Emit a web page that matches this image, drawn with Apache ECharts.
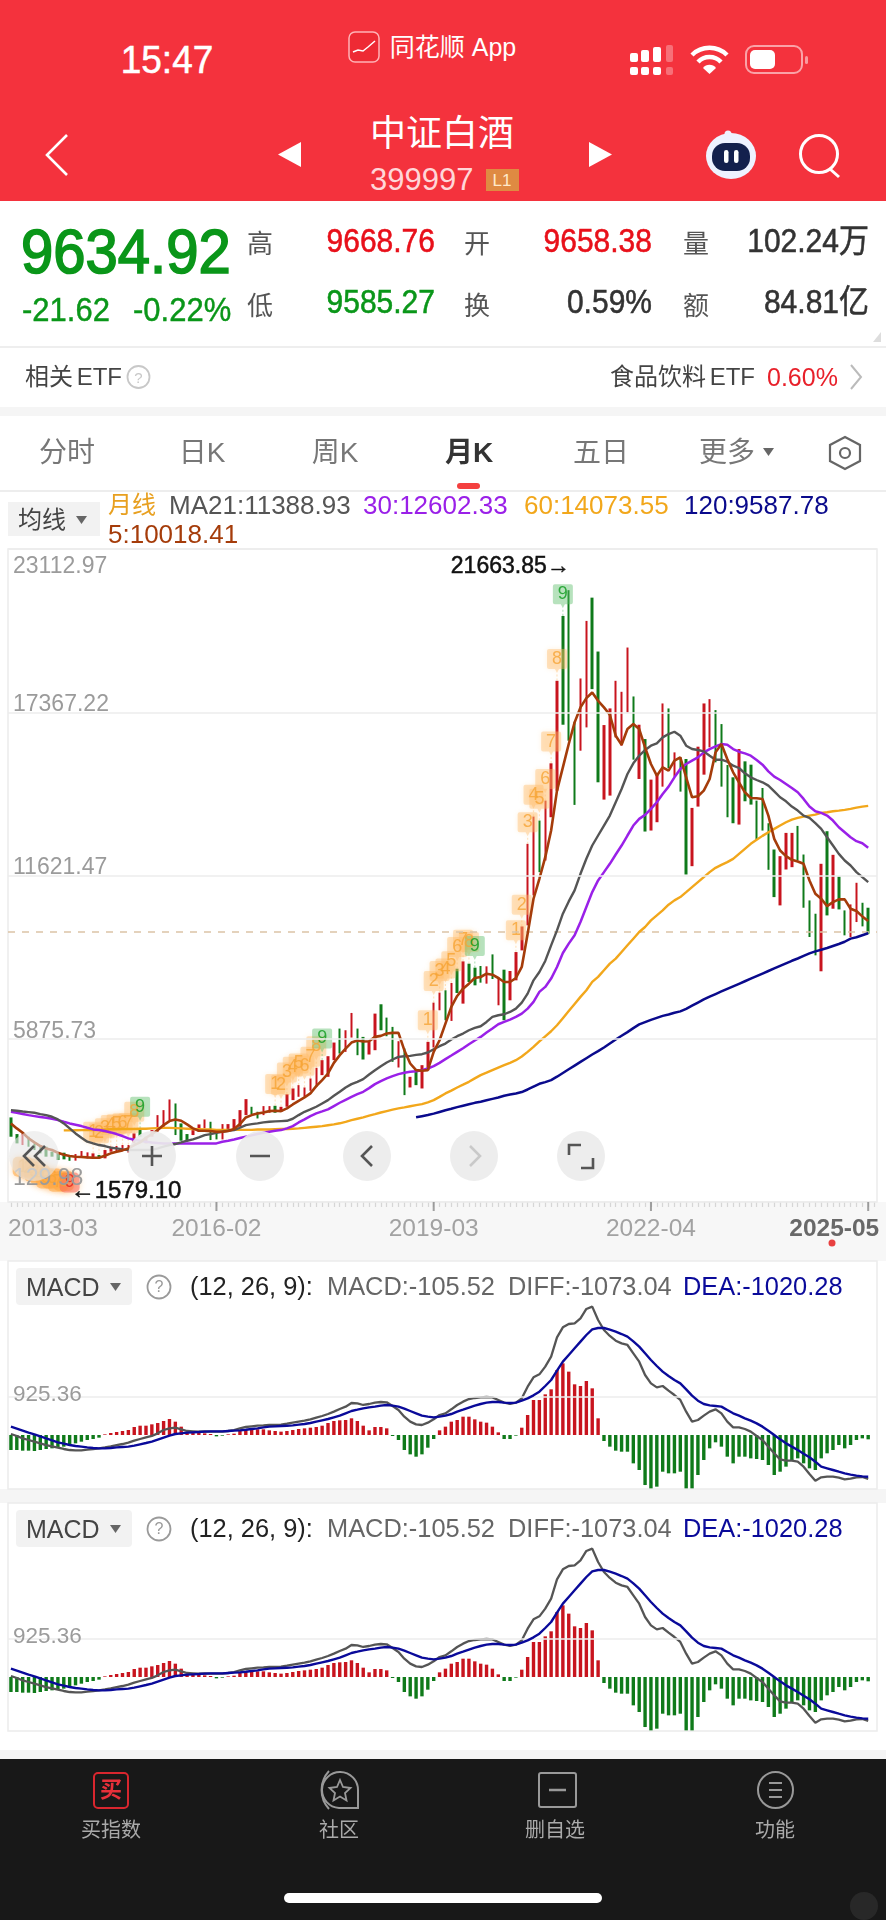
<!DOCTYPE html>
<html><head><meta charset="utf-8">
<style>
html,body{margin:0;padding:0;background:#fff;width:886px;height:1920px;overflow:hidden;font-family:"Liberation Sans","Noto Sans CJK SC",sans-serif}
#bands,#ui,#chart{position:absolute;left:0;top:0;width:886px;height:1920px}
#ui{pointer-events:none}
.b{position:absolute}
.t{position:absolute;white-space:nowrap;line-height:1}
svg{position:absolute;left:0;top:0}
</style>
<script src="https://cdn.jsdelivr.net/npm/echarts@6/dist/echarts.min.js"></script>
</head><body>
<div id="bands"></div>
<div id="chart"></div>
<div id="ui"></div>
<script>
// ---------- data ----------
const firstMonth = [2013, 3];
const monthCount = 147;
const yTickLabels = ['129.98','5875.73','11621.47','17367.22','23112.97'];
const xTickIdx = [0,35,72,109,146];
const xTickText = ['2013-03','2016-02','2019-03','2022-04','2025-05'];
const prevClose = 9656.54;
const highs = [
3107,2521,2544,2427,2193,2135,2076,1900,1842,1865,
1748,1818,1924,1877,1842,1783,1959,2076,2100,2135,
2135,2544,2720,2427,2661,3188,3364,3739,3598,2896,
2521,2661,2860,3036,2954,2568,2872,2872,3048,3364,
3751,3481,3306,3505,3505,3516,3481,3926,4126,4243,
4161,4478,4852,5122,5262,5742,6234,6175,6784,6234,
5941,5766,6761,7089,6620,6293,5789,5531,4536,4770,
4946,5766,7147,7499,7581,7838,8342,8599,8518,8377,
8436,8424,8845,8049,8307,8260,8927,9829,12736,13696,
13555,14258,15570,18474,20757,21663.85,17033,18556,20582,21401,
19504,16916,17502,18474,18087,19645,17923,16928,16424,14996,
15195,17677,17501,15955,15780,15721,14000,16155,17677,17829,
17443,16951,15510,15077,16072,15639,15522,14257,14702,13461,
12536,12302,13121,13121,13367,12360,10744,10276,12033,13180,
12349,11587,10393,10604,11365,10662,10487];
const lows = [
2427,2193,2135,2076,1959,1842,1725,1725,1608,1631,
1579.10,1585,1701,1666,1666,1666,1666,1900,1900,1935,
1865,2193,2427,2193,2427,2603,2720,3013,2486,2287,
2310,2486,2603,2720,2310,2333,2333,2603,2720,2779,
3188,3224,3071,3188,3271,3271,3306,3482,3716,3833,
3833,4044,4185,4595,4536,5122,5356,5414,5918,5297,
5145,5321,5473,6175,5965,5063,4864,3892,4161,4243,
4126,4770,5567,6878,6527,6503,7487,7112,7873,7756,
7850,7815,7979,7054,6527,7229,7932,8986,9867,10921,
11740,12150,13673,14609,16928,16366,14106,16014,16834,18181,
14902,14293,14434,16483,16190,17361,15698,15019,13169,13204,
13497,14749,15405,15100,14574,11658,11950,14047,15171,16131,
15604,14749,13672,13461,13414,14234,14117,12876,13203,11822,
10861,10569,11833,11915,12149,10487,9456,8812,8250,10217,
10452,10428,9515,9456,9983,9831,9573];
const rising = [
0,0,1,0,0,0,0,0,0,0,
0,1,1,1,1,0,1,1,1,1,
1,1,0,1,1,1,1,1,0,0,
0,1,1,1,0,0,1,1,1,1,
1,0,0,1,1,0,1,1,1,1,
1,1,1,1,1,1,0,1,1,0,
0,1,1,0,0,0,1,0,1,0,
1,1,1,1,0,1,0,1,0,0,
0,1,0,1,0,1,1,1,1,1,
0,1,1,1,0,0,0,1,1,0,
0,1,1,1,1,1,0,1,0,1,
1,1,0,1,0,0,1,1,1,1,
0,0,0,0,1,0,0,0,0,0,
0,1,1,1,0,0,0,0,1,0,
1,0,0,1,1,0,0];
const ma5 = [
2896,2720,2568,2369,2228,2099,2017,1959,1865,1795,
1748,1725,1713,1701,1690,1690,1760,1842,1900,1947,
2017,2135,2228,2392,2521,2661,2837,2978,3036,2989,
2860,2720,2638,2638,2626,2603,2603,2626,2697,2872,
3107,3188,3247,3282,3329,3341,3329,3423,3563,3692,
3810,3951,4208,4419,4653,5028,5297,5531,5742,5812,
5777,5789,5941,5976,6058,6082,6082,5473,5005,4770,
4747,4770,5414,5824,6410,6995,7382,7639,7815,8014,
8049,8166,8131,8014,7873,7873,8014,8403,9574,10803,
11506,12267,13204,14609,15429,16249,17010,17537,17865,18064,
17771,17537,17279,16541,16225,16776,16951,16776,16132,15546,
15136,15429,15312,15663,15780,15077,14375,14410,14609,15019,
15955,16248,15721,15253,14901,14550,14351,14339,14316,13731,
12911,12501,12302,12173,12114,12033,11447,10979,10803,10545,
10686,10780,10780,10452,10370,10182,10018.41];
const ma21 = [
3364,3341,3317,3294,3270,3224,3188,3130,3036,2896,
2720,2544,2392,2252,2193,2135,2099,2041,2017,1982,
1959,1959,1959,1959,1959,2017,2076,2135,2170,2228,
2287,2333,2404,2486,2521,2568,2603,2638,2661,2743,
2837,2872,2896,2931,2954,2966,2978,2989,3060,3189,
3306,3388,3482,3599,3716,3869,4009,4161,4278,4360,
4454,4618,4770,4911,5040,5145,5239,5262,5274,5309,
5332,5391,5508,5613,5707,5847,5965,6058,6175,6257,
6316,6468,6644,6702,6738,6820,6937,7147,7464,7932,
8227,8614,9164,9691,10277,10710,11096,11682,12209,12677,
13029,13380,13731,14200,14668,15195,15570,15839,16038,16190,
16272,16482,16599,16681,16541,16190,16072,16037,15991,15838,
15698,15698,15627,15487,15405,15218,15077,14983,14901,14784,
14585,14375,14234,14047,13906,13731,13649,13461,13262,12969,
12676,12384,12150,11974,11740,11564,11388.93];
const ma30 = [
3305,3270,3224,3188,3153,3118,3095,3060,3013,2954,
2896,2849,2802,2743,2685,2661,2626,2579,2521,2451,
2369,2322,2287,2252,2228,2205,2193,2193,2193,2193,
2193,2193,2193,2193,2193,2193,2252,2287,2333,2380,
2427,2474,2521,2568,2603,2638,2661,2720,2802,2930,
3037,3154,3248,3318,3389,3506,3623,3728,3833,3927,
4009,4138,4279,4384,4478,4560,4630,4677,4712,4735,
4770,4829,4911,5028,5157,5285,5414,5543,5684,5813,
5941,6093,6234,6386,6468,6550,6644,6761,6937,7171,
7525,7700,7993,8403,8895,9223,9516,9984,10511,11038,
11448,11740,12033,12361,12677,13029,13380,13614,13755,13965,
14200,14492,14749,15077,15370,15546,15663,15780,15955,16072,
16166,16248,16225,16072,15979,15920,15838,15686,15522,15288,
15100,14983,14843,14702,14550,14316,14047,13883,13824,13731,
13555,13321,13145,12969,12829,12758,12602.33];
const ma60 = [
null,null,null,null,null,null,null,null,null,2650,
2650,2655,2660,2660,2665,2670,2680,2690,2690,2700,
2700,2700,2710,2710,2720,2730,2740,2740,2730,2720,
2710,2700,2690,2680,2680,2670,2670,2670,2670,2670,
2670,2670,2680,2680,2680,2690,2700,2700,2710,2720,
2740,2760,2780,2800,2830,2860,2900,2950,3010,3060,
3110,3170,3220,3280,3330,3380,3423,3460,3500,3540,
3576,3640,3716,3830,3951,4050,4161,4260,4360,4480,
4595,4680,4770,4860,4946,5030,5122,5250,5414,5590,
5780,5960,6140,6350,6600,6850,7100,7350,7583,7876,
8052,8286,8520,8696,8930,9164,9398,9633,9808,10043,
10218,10394,10593,10745,10862,11037,11213,11388,11564,11740,
11892,11997,12091,12208,12384,12559,12735,12876,13016,13145,
13262,13379,13496,13590,13649,13695,13731,13766,13824,13847,
13883,13906,13930,13965,14012,14047,14073.55];
const ma120 = [
null,null,null,null,null,null,null,null,null,null,
null,null,null,null,null,null,null,null,null,null,
null,null,null,null,null,null,null,null,null,null,
null,null,null,null,null,null,null,null,null,null,
null,null,null,null,null,null,null,null,null,null,
null,null,null,null,null,null,null,null,null,null,
null,null,null,null,null,null,null,null,null,3110,
3150,3190,3240,3300,3360,3410,3470,3520,3570,3620,
3660,3710,3760,3810,3870,3910,3950,4000,4090,4190,
4290,4350,4420,4540,4670,4800,4930,5060,5190,5320,
5440,5570,5710,5850,5980,6110,6250,6380,6460,6540,
6610,6680,6730,6790,6840,6930,7040,7150,7260,7360,
7450,7540,7630,7720,7810,7900,7990,8080,8170,8260,
8350,8440,8530,8620,8700,8790,8880,8950,9010,9070,
9140,9210,9290,9400,9450,9520,9587.78];
const macdBars = [
-367,-367,-383,-383,-391,-367,-342,-326,-310,-285,
-245,-204,-163,-122,-98,-65,16,49,73,98,
122,196,228,228,261,293,342,391,326,204,
82,65,49,41,24,-33,-16,16,33,98,
122,130,139,139,114,98,82,98,122,147,
163,179,196,228,293,342,359,367,408,342,
228,114,196,196,163,-24,-122,-367,-473,-530,
-473,-310,-98,114,204,326,367,448,448,383,
326,302,204,65,-98,-98,-16,179,489,856,
856,994,1117,1589,1752,1549,1239,1198,1320,1141,
408,-147,-285,-383,-408,-408,-693,-856,-1223,-1304,
-1263,-897,-937,-937,-897,-1304,-1304,-978,-611,-326,
-179,-285,-530,-693,-530,-530,-571,-587,-611,-734,
-978,-897,-774,-611,-571,-693,-815,-856,-571,-448,
-367,-245,-326,-245,-122,-82,-105.52];
const diff = [
24,-24,-82,-122,-163,-204,-245,-277,-310,-342,
-367,-375,-375,-359,-342,-326,-302,-277,-245,-220,
-187,-139,-98,-57,-24,41,122,163,179,139,
98,90,82,90,82,82,82,98,122,163,
196,212,228,236,245,245,253,277,302,326,
350,383,424,465,513,571,636,693,782,774,
734,758,791,807,799,709,611,448,326,261,
245,302,383,489,530,628,734,815,880,905,
921,929,921,856,791,758,791,897,1182,1410,
1483,1671,1915,2388,2632,2714,2730,2853,3081,3138,
2812,2567,2421,2306,2241,2201,1997,1793,1467,1263,
1165,1198,1084,978,856,571,326,367,473,571,
628,530,326,187,187,147,82,-24,-122,-285,
-448,-595,-628,-628,-652,-774,-954,-1117,-1035,-1019,
-1019,-1043,-1084,-1068,-1035,-1027,-1073.04];
const dea = [
204,155,106,57,16,-33,-82,-130,-179,-212,
-245,-269,-285,-302,-318,-326,-326,-318,-302,-293,
-285,-261,-228,-196,-163,-114,-65,-16,24,41,
57,65,73,82,90,90,90,98,106,114,
130,147,163,187,204,212,220,228,236,253,
269,293,326,359,391,432,473,530,587,619,
652,676,693,717,734,717,693,644,587,530,
473,448,432,448,473,513,571,619,668,717,
758,791,807,807,791,782,791,839,897,970,
1060,1198,1345,1573,1793,1956,2119,2282,2445,2584,
2616,2616,2575,2527,2469,2404,2290,2160,1997,1834,
1687,1549,1443,1345,1263,1117,962,839,758,725,
709,693,611,530,473,408,350,285,204,106,
0,-106,-204,-285,-367,-456,-546,-652,-774,-815,
-856,-897,-937,-970,-994,-1011,-1020.28];
const upRuns = [14,45,71,86];     // first bar of each rising 1-9 count
const downRuns = [2];             // first bar of the falling 1-9 count
const macdTick = 925.36;
const C = {up:'#C8141E',down:'#0F7A1A',ma5:'#A53C0A',ma21:'#555555',ma30:'#9A20E8',ma60:'#F2A71B',ma120:'#0A0A8C'};

// ---------- chart ----------
const categories = [];
{let [y,m]=firstMonth;for(let i=0;i<monthCount;i++){categories.push(y+'-'+String(m).padStart(2,'0'));m++;if(m>12){m=1;y++}}}
categories.push('');
const ohlc = highs.map((h,i)=>rising[i]?[lows[i],h,lows[i],h]:[h,lows[i],lows[i],h]);
const pin='path://M2 0H18Q20 0 20 2V18Q20 20 18 20H12L10 24L8 20H2Q0 20 0 18V2Q0 0 2 0ZM9.4 25.5h1.2v2h-1.2zM9.4 29.5h1.2v2h-1.2z';
const tagOrange='rgba(255,188,105,0.5)';
const upTags=[],downTags=[];
upRuns.forEach(s=>{for(let k=0;k<9;k++){const g=k===8;upTags.push({value:[s+k,highs[s+k]],digit:k+1,
  itemStyle:{color:g?'rgba(90,190,105,0.55)':tagOrange,shadowBlur:g?0:5,shadowColor:tagOrange},
  label:{color:g?'#0A9A1A':'#F6A434'}})}});
downRuns.forEach(s=>{for(let k=0;k<9;k++){const g=k===8;downTags.push({value:[s+k,lows[s+k]],digit:k+1,
  itemStyle:{color:g?'rgba(250,95,85,0.65)':'rgba(255,170,70,0.7)',shadowBlur:6,shadowColor:'rgba(255,170,70,0.7)'},
  label:{color:g?'#E02020':'#F6A434'}})}});
const line=(name,data,color,w)=>({name,type:'line',data,xAxisIndex:0,yAxisIndex:0,showSymbol:false,symbol:'none',lineStyle:{color,width:w},itemStyle:{color},connectNulls:false,silent:true,z:5,clip:false});
const xLabelData = xTickIdx.map((i,n)=>({value:[i,129.98],
  symbol:'rect',symbolSize:[2,9],symbolOffset:[0,4.5],
  itemStyle:{color:n===0?'rgba(0,0,0,0)':'#8a8a8a'},
  label:{formatter:xTickText[n],align:n===0?'left':n===4?'right':'center',offset:n===0?[-3,0]:n===4?[11,0]:[0,0],color:n===4?'#444':'#8c8c8c',fontWeight:n===4?'bold':'normal'}}));
const macdSeries = (k)=>{
  const xi=k+1;
  return [
   {type:'bar',xAxisIndex:xi,yAxisIndex:xi,barWidth:3.4,silent:true,data:macdBars.map(v=>({value:v,itemStyle:{color:v>=0?C.up:C.down}})),
    markLine:{silent:true,symbol:'none',lineStyle:{color:'#ececec',width:1.5,type:'solid'},data:[{yAxis:macdTick}],
      label:{show:true,position:'insideStartTop',formatter:String(macdTick),color:'#9b9b9b',fontSize:22.5,distance:[5,-9],fontFamily:'Liberation Sans'}}},
   {type:'line',xAxisIndex:xi,yAxisIndex:xi,data:diff,showSymbol:false,symbol:'none',silent:true,lineStyle:{color:'#555',width:2.3},z:4},
   {type:'line',xAxisIndex:xi,yAxisIndex:xi,data:dea,showSymbol:false,symbol:'none',silent:true,lineStyle:{color:'#0A0A9A',width:2.4},z:5}
  ];
};
const panelAxisX = (i)=>({type:'category',gridIndex:i,data:categories,boundaryGap:true,axisLine:{show:false},axisTick:{show:false},axisLabel:{show:false},splitLine:{show:false}});
const panelAxisY = (i)=>({type:'value',gridIndex:i,min:-1320,max:4254,axisLine:{show:false},axisTick:{show:false},axisLabel:{show:false},splitLine:{show:false}});
const yLabelBase={color:'#9b9b9b',fontSize:23,fontFamily:'Liberation Sans'};
const chart = echarts.init(document.getElementById('chart'),null,{renderer:'canvas',width:886,height:1920});
chart.setOption({
  animation:false,
  backgroundColor:'transparent',
  textStyle:{fontFamily:'Liberation Sans'},
  grid:[
    {left:8,top:549,width:869,height:653,show:true,backgroundColor:'#fff',borderColor:'#ececec',borderWidth:1.5},
    {left:8,top:1261,width:869,height:228,show:true,backgroundColor:'#fff',borderColor:'#ececec',borderWidth:1.5},
    {left:8,top:1503,width:869,height:228,show:true,backgroundColor:'#fff',borderColor:'#ececec',borderWidth:1.5}
  ],
  xAxis:[
    {type:'category',gridIndex:0,data:categories,boundaryGap:true,axisLine:{show:false},
      axisTick:{show:true,interval:0,length:5,alignWithLabel:true,lineStyle:{color:'#d6d6d6',width:1.2}},axisLabel:{show:false},splitLine:{show:false}},
    panelAxisX(1),panelAxisX(2)
  ],
  yAxis:[
    {type:'value',gridIndex:0,min:129.98,max:23112.97,interval:5745.7475,axisLine:{show:false},axisTick:{show:false},
      splitLine:{show:true,lineStyle:{color:'#ececec',width:1.5}},
      axisLabel:{inside:true,margin:5,verticalAlign:'middle',verticalAlignMaxLabel:'top',verticalAlignMinLabel:'bottom',
        formatter:(v,i)=>'{'+(i===0?'m':i===yTickLabels.length-1?'x':'n')+'|'+yTickLabels[i]+'}',
        rich:{n:{...yLabelBase,padding:[0,0,15,0]},x:{...yLabelBase,padding:[6.5,0,0,0]},m:{...yLabelBase,padding:[0,0,12,0]}}},z:6},
    panelAxisY(1),panelAxisY(2)
  ],
  series:[
    {type:'candlestick',xAxisIndex:0,yAxisIndex:0,barWidth:3,silent:true,data:ohlc,z:2,clip:false,
      itemStyle:{color:C.up,color0:C.down,borderColor:C.up,borderColor0:C.down,borderWidth:0},
      markLine:{silent:true,symbol:'none',lineStyle:{color:'#dcc4a6',type:[7,7],width:1.5},label:{show:false},data:[{yAxis:prevClose}]},
      markPoint:{silent:true,symbol:'circle',symbolSize:0,data:[
        {coord:[95,21663.85],label:{show:true,position:'left',distance:0,offset:[1,-24],formatter:'21663.85→',color:'#111',fontSize:23,fontFamily:'Liberation Sans',textBorderColor:'#111',textBorderWidth:0.5}},
        {coord:[10,1579.10],label:{show:true,position:'right',distance:0,offset:[1,31],formatter:'←1579.10',color:'#111',fontSize:24,fontFamily:'Liberation Sans',textBorderColor:'#111',textBorderWidth:0.5}}
      ]}},
    {type:'scatter',xAxisIndex:0,yAxisIndex:0,symbol:pin,symbolSize:[20,31.5],symbolOffset:[0,-15.95],silent:true,z:3,clip:false,data:upTags,
      label:{show:true,position:'inside',offset:[0,-5.75],fontSize:18,fontFamily:'Liberation Sans',formatter:p=>p.data.digit}},
    {type:'scatter',xAxisIndex:0,yAxisIndex:0,symbol:'roundRect',symbolSize:[20,20],symbolOffset:[0,21.7],silent:true,z:3,clip:false,data:downTags,
      label:{show:true,position:'inside',fontSize:18,fontFamily:'Liberation Sans',formatter:p=>p.data.digit}},
    line('MA120',ma120,C.ma120,2.5),
    line('MA60',ma60,C.ma60,2.4),
    line('MA30',ma30,C.ma30,2.5),
    line('MA21',ma21,C.ma21,2.4),
    line('MA5',ma5,C.ma5,2.6),
    {type:'scatter',xAxisIndex:0,yAxisIndex:0,silent:true,z:6,clip:false,data:xLabelData,
      label:{show:true,position:'bottom',distance:6,fontSize:24.5,fontFamily:'Liberation Sans'}},
    ...macdSeries(0),...macdSeries(1)
  ]
});

// ---------- phone chrome ----------
const bands=document.getElementById('bands'), ui=document.getElementById('ui');
function band(x,y,w,h,c,parent){const d=document.createElement('div');d.className='b';d.style.cssText=`left:${x}px;top:${y}px;width:${w}px;height:${h}px;background:${c}`;(parent||bands).appendChild(d)}
function T(txt,x,cy,size,color,o={}){const d=document.createElement('div');d.className='t';d.textContent=txt;
  const a=o.a||'l';const sc=o.sy?`scaleY(${o.sy})`:'';
  d.style.cssText=`font-size:${size}px;color:${color};top:${cy}px;font-weight:${o.w||'normal'};`+
   (o.st?`-webkit-text-stroke:${o.st}px ${color};`:'')+(o.ws?`word-spacing:${o.ws}px;`:'')+
   (a==='l'?`left:${x}px;transform:translateY(-50%) ${sc};`:
    a==='r'?`right:${886-x}px;transform:translateY(-50%) ${sc};`:
    `left:${x}px;transform:translate(-50%,-50%) ${sc};`);
  ui.appendChild(d)}
band(0,0,886,201,'#F4323D',ui);
band(0,346,886,2,'#eeeeee');
band(0,407,886,9,'#f5f5f5');
band(0,490,886,2,'#ededed');
band(0,1202,886,59,'#f7f7f7');
band(0,1489,886,14,'#f5f5f5');
band(0,1731,886,19,'#ffffff');
band(0,1750,886,9,'#f5f5f5');
band(0,1759,886,161,'#181818',ui);
band(8,502,92,34,'#f2f2f2');

const iconsAbove=`
<svg width="886" height="1920" viewBox="0 0 886 1920" xmlns="http://www.w3.org/2000/svg">
 <rect x="349" y="32" width="30" height="30" rx="6" fill="#EE2A34" stroke="#ffb3b6" stroke-width="1.5"/>
 <path d="M353 52l5-2 5 1 5-4 7-6" stroke="#fff" stroke-width="1.5" fill="none"/>
 <g fill="#fff"><rect x="630" y="53" width="8" height="9" rx="2"/><rect x="641" y="50" width="8" height="12" rx="2"/><rect x="653" y="47" width="8" height="15" rx="2"/>
 <rect x="630" y="67" width="8" height="8" rx="2"/><rect x="641" y="67" width="8" height="8" rx="2"/><rect x="653" y="67" width="8" height="8" rx="2"/></g>
 <g fill="#fff" opacity=".3"><rect x="666" y="45" width="7" height="17" rx="2"/><rect x="666" y="67" width="7" height="8" rx="2"/></g>
 <g fill="none" stroke="#fff" stroke-width="4.5"><path d="M692 55a25 25 0 0 1 35 0"/><path d="M698 62a16 16 0 0 1 23 0"/></g>
 <path d="M703 68a8 8 0 0 1 13 0l-6.500 6z" fill="#fff"/>
 <rect x="746" y="46" width="56" height="27" rx="8" fill="none" stroke="#ffffff" stroke-opacity=".55" stroke-width="2"/>
 <rect x="750" y="50" width="25" height="19" rx="5" fill="#fff"/>
 <rect x="805" y="56" width="3" height="8" rx="1.500" fill="#fff" opacity=".5"/>
 <path d="M67 135L47 155L67 175" fill="none" stroke="#fff" stroke-width="2.6"/>
 <path d="M301 142V167L278 154.500Z" fill="#fff"/>
 <path d="M589 142V167L612 154.500Z" fill="#fff"/>
 <rect x="486" y="169" width="33" height="22" fill="#DF8A42"/>
 <ellipse cx="731" cy="156" rx="25" ry="23" fill="#EEF2FF"/>
 <circle cx="728" cy="134" r="3.500" fill="#EEF2FF"/>
 <rect x="712" y="143" width="38" height="28" rx="13" fill="#13204D"/>
 <rect x="724" y="150" width="4.500" height="13" rx="2.200" fill="#fff"/><rect x="734" y="150" width="4.500" height="13" rx="2.200" fill="#fff"/>
 <circle cx="819" cy="154" r="18.500" fill="none" stroke="#fff" stroke-width="3"/>
 <path d="M830 169L839 177" stroke="#fff" stroke-width="3"/>
 <path d="M881 332V342H873Z" fill="#dddddd"/>
 <circle cx="138.500" cy="377" r="11" fill="none" stroke="#c8c8c8" stroke-width="1.800"/>
 <path d="M851 365L861 377L851 389" fill="none" stroke="#bbbbbb" stroke-width="2"/>
 <path d="M763 448h11l-5.500 8z" fill="#666" />
 <path d="M845 437L860 445V461L845 469L830 461V445Z" fill="none" stroke="#666" stroke-width="2.200"/>
 <circle cx="845" cy="453" r="5" fill="none" stroke="#666" stroke-width="2.200"/>
 <rect x="457" y="483" width="23" height="6" rx="3" fill="#F4403F"/>
 <path d="M76 516h11l-5.500 8z" fill="#666"/>
 <ellipse cx="34" cy="1156" rx="25" ry="25" fill="#e6e6e6" fill-opacity=".62"/>
 <ellipse cx="152" cy="1156" rx="24" ry="25" fill="#ececec" fill-opacity=".92"/>
 <ellipse cx="260" cy="1156" rx="24" ry="25" fill="#ececec" fill-opacity=".92"/>
 <ellipse cx="367" cy="1156" rx="24" ry="25" fill="#ececec" fill-opacity=".92"/>
 <ellipse cx="474" cy="1156" rx="24" ry="25" fill="#ececec" fill-opacity=".92"/>
 <ellipse cx="581" cy="1156" rx="24" ry="25" fill="#ececec" fill-opacity=".92"/>
 <path d="M34 1146L24 1156L34 1166M45 1146L35 1156L45 1166" fill="none" stroke="#555" stroke-width="2.600"/>
 <path d="M152 1146V1166M142 1156H162M250 1156H270" fill="none" stroke="#555" stroke-width="2.600"/>
 <path d="M372 1146L362 1156L372 1166" fill="none" stroke="#555" stroke-width="2.600"/>
 <path d="M470 1146L480 1156L470 1166" fill="none" stroke="#c9c9c9" stroke-width="2.600"/>
 <path d="M569 1155V1145H581M593 1158V1168H581" fill="none" stroke="#555" stroke-width="2.600"/>
 <circle cx="832" cy="1243" r="3.500" fill="#E84040"/>
 <rect x="16" y="1268" width="116" height="37" rx="4" fill="#f2f2f2"/>
 <path d="M110 1283h11l-5.500 8z" fill="#666"/>
 <circle cx="159" cy="1287" r="11.500" fill="none" stroke="#9a9a9a" stroke-width="1.800"/>
 <rect x="16" y="1510" width="116" height="37" rx="4" fill="#f2f2f2"/>
 <path d="M110 1525h11l-5.500 8z" fill="#666"/>
 <circle cx="159" cy="1529" r="11.500" fill="none" stroke="#9a9a9a" stroke-width="1.800"/>
 <rect x="94" y="1773" width="34" height="35" rx="4" fill="none" stroke="#D8262E" stroke-width="2"/>
 <path d="M329 1771A28 28 0 0 0 329 1809" fill="none" stroke="#999" stroke-width="2"/>
 <path d="M358 1808H339A18 18 0 1 1 358 1790Z" fill="none" stroke="#999" stroke-width="2"/>
 <path d="M340 1780l3 7 7.500 1-5.500 5 1.500 7.500-6.500-4-6.500 4 1.500-7.500-5.500-5 7.500-1z" fill="none" stroke="#999" stroke-width="1.800"/>
 <rect x="539" y="1773" width="37" height="34" rx="2" fill="none" stroke="#999" stroke-width="2"/>
 <path d="M549 1790h17" stroke="#999" stroke-width="2.500"/>
 <ellipse cx="775.500" cy="1790" rx="17.500" ry="18" fill="none" stroke="#999" stroke-width="2"/>
 <path d="M769 1783h13M769 1790h13M769 1797h13" stroke="#999" stroke-width="2"/>
 <rect x="284" y="1893" width="318" height="10" rx="5" fill="#fff"/>
 <circle cx="864" cy="1906" r="14" fill="#333" fill-opacity=".6"/>
</svg>`;
ui.insertAdjacentHTML('beforeend',iconsAbove);

T('15:47',167,60,37,'#fff',{a:'c',st:0.5,sy:1.05});
T('同花顺 App',453,47,25,'#fff',{a:'c'});
T('中证白酒',442,134,36,'#fff',{a:'c'});
T('399997',370,179,31,'#FFD6D8');
T('L1',502,180,17,'#FFE9C9',{a:'c'});
T('9634.92',21,251,58,'#0A9619',{st:1.6,sy:1.08});
T('-21.62',22,310,31,'#0A9619',{st:0.4,sy:1.05});
T('-0.22%',133,310,31,'#0A9619',{st:0.4,sy:1.05});
[['高',247,244],['低',247,306],['开',464,244],['换',464,306],['量',683,244],['额',683,306]].forEach(a=>T(a[0],a[1],a[2],26,'#555'));
const qOpt={a:'r',st:0.5,sy:1.1};
T('9668.76',435,241,30,'#E8101A',qOpt);
T('9585.27',435,302,30,'#0A9619',qOpt);
T('9658.38',652,241,30,'#E8101A',qOpt);
T('0.59%',652,302,30,'#333',qOpt);
T('102.24万',869,241,30,'#333',qOpt);
T('84.81亿',869,302,30,'#333',qOpt);
T('相关 ETF',25,377,24,'#444',{ws:-3});
T('?',138.5,377,15,'#c8c8c8',{a:'c'});
T('食品饮料 ETF',610,377,24,'#444',{ws:-3});
T('0.60%',767,377,25,'#E8202A');
[['分时',67],['日K',202],['周K',335],['五日',601],['更多',727]].forEach(a=>T(a[0],a[1],453,28,'#777',{a:'c'}));
T('月K',469,453,28,'#333',{a:'c',w:'bold'});
T('均线',18,520,24,'#444');
T('月线',108,505,24,'#E8A020');
T('MA21:11388.93',169,505,26,'#555');
T('30:12602.33',363,505,26,'#9A20E8');
T('60:14073.55',524,505,26,'#F2A71B');
T('120:9587.78',684,505,26,'#0A0A8C');
T('5:10018.41',108,534,26,'#A53C0A');
[0,242].forEach(d=>{
  T('MACD',26,1287+d,25,'#444');
  T('?',159,1287+d,16,'#9a9a9a',{a:'c'});
  T('(12, 26, 9):',190,1287+d,25.4,'#222');
  T('MACD:-105.52',327,1287+d,25.4,'#666');
  T('DIFF:-1073.04',508,1287+d,25.4,'#666');
  T('DEA:-1020.28',683,1287+d,25.4,'#0A0A9A');
});
T('买',111,1790,22,'#E8303A',{a:'c',w:'bold'});
T('买指数',111,1830,20,'#aaa',{a:'c'});
T('社区',339,1830,20,'#aaa',{a:'c'});
T('删自选',555,1830,20,'#aaa',{a:'c'});
T('功能',775,1830,20,'#aaa',{a:'c'});
</script>
</body></html>
